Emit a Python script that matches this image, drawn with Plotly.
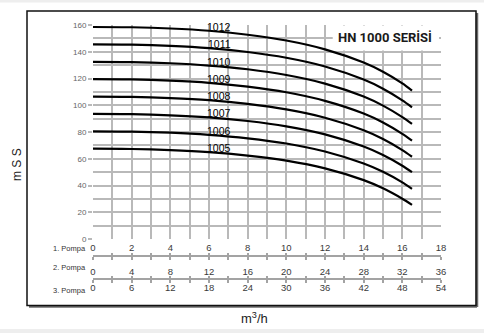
import numpy as np
import plotly.graph_objects as go

# Flow rate (m3/h, single pump) and head (mSS) for each pump model
flow = [0, 2, 4, 6, 8, 10, 12, 14, 15, 16, 16.5]
models = ["1012", "1011", "1010", "1009", "1008", "1007", "1006", "1005"]
head_1012 = [158.5, 158.3, 157.4, 155.7, 152.7, 148.4, 141.8, 131.9, 125.0, 116.3, 111.0]
head_1011 = [145.5, 145.3, 144.4, 142.7, 139.8, 135.5, 129.0, 119.2, 112.4, 103.7, 98.5]
head_1010 = [132.5, 132.3, 131.4, 129.7, 126.9, 122.6, 116.2, 106.5, 99.7, 91.1, 86.0]
head_1009 = [119.5, 119.3, 118.4, 116.8, 113.9, 109.7, 103.3, 93.8, 87.1, 78.6, 73.5]
head_1008 = [106.5, 106.3, 105.4, 103.8, 101.0, 96.9, 90.7, 81.3, 74.8, 66.5, 61.5]
head_1007 = [93.5, 93.3, 92.5, 90.9, 88.2, 84.2, 78.2, 69.1, 62.8, 54.8, 50.0]
head_1006 = [80.5, 80.3, 79.5, 77.9, 75.3, 71.4, 65.4, 56.4, 50.2, 42.3, 37.5]
head_1005 = [67.5, 67.3, 66.5, 65.0, 62.4, 58.6, 52.8, 44.0, 37.9, 30.1, 25.5]
heads = [head_1012, head_1011, head_1010, head_1009,
         head_1008, head_1007, head_1006, head_1005]

label_x = 6.53

# Flow scales for 1, 2 and 3 pumps in parallel
pompa1_ticks = list(range(0, 19, 2))
pompa2_ticks = list(range(0, 37, 4))
pompa3_ticks = list(range(0, 55, 6))
head_ticks = list(range(0, 161, 20))

W, H = 484, 333
ML, MR, MT, MB = 93, 43, 25, 33
PW, PH = W - ML - MR, H - MT - MB


def px(x):
    return (x - ML) / PW


def py(y):
    return (H - MB - y) / PH


plot_bottom = 239
line1_y = 256
line2_y = 279

GRID = "#b9b9b9"
AXC = "#a3a3a3"
TXT = "#3a3a3a"
FONT = "Liberation Sans"

fig = go.Figure()

for name, h in zip(models, heads):
    fig.add_trace(go.Scatter(
        x=flow, y=h, mode="lines", name=name,
        line=dict(color="black", width=2.2, shape="spline", smoothing=0.7),
        hoverinfo="skip", showlegend=False))
    fig.add_annotation(
        x=label_x, y=float(np.interp(label_x, flow, h)), text=name,
        showarrow=False, xanchor="center", yanchor="bottom", yshift=-3,
        font=dict(family=FONT, size=10.5, color="black"))

# empty traces so the extra flow scales are laid out
for ax in ["x2", "x3", "x4", "x5", "x6"]:
    fig.add_trace(go.Scatter(x=[], y=[], xaxis=ax, yaxis="y",
                             showlegend=False, hoverinfo="skip"))

x_grid = list(range(0, 19))


def tick_axis(pos, direction):
    # bare tick marks (one per single-pump m3/h) on a scale line
    return dict(range=[0, 18], overlaying="x", anchor="free", position=pos,
                side="bottom", showline=False, tickvals=x_grid,
                ticks=direction, ticklen=3, tickcolor=AXC, tickwidth=1.5,
                showticklabels=False, showgrid=False, zeroline=False)


fig.update_layout(
    width=W, height=H,
    margin=dict(l=ML, r=MR, t=MT, b=MB, pad=0),
    paper_bgcolor="white", plot_bgcolor="white",
    showlegend=False,
    xaxis=dict(
        range=[0, 18], tickvals=x_grid,
        ticktext=[str(v) if v in pompa1_ticks else "" for v in x_grid],
        ticks="", showline=False,
        zeroline=False, showgrid=True, gridcolor=GRID, gridwidth=2,
        tickfont=dict(family=FONT, size=9.5, color=TXT),
        ticklabelstandoff=1),
    yaxis=dict(
        range=[0, 160], tickvals=head_ticks, ticks="outside", ticklen=4,
        tickcolor=GRID, tickwidth=2, showline=False, zeroline=False,
        showgrid=True, gridcolor=GRID, gridwidth=2,
        minor=dict(dtick=10, showgrid=True, gridcolor=GRID, gridwidth=2),
        tickfont=dict(family=FONT, size=8, color="#666666"),
        domain=[py(plot_bottom), 1]),
    xaxis2=dict(
        range=[0, 36], overlaying="x", anchor="free", position=py(line1_y),
        side="bottom", showline=True, linecolor=AXC, linewidth=2,
        tickvals=pompa2_ticks, ticks="", showgrid=False, zeroline=False,
        tickfont=dict(family=FONT, size=9.5, color=TXT),
        ticklabelstandoff=7),
    xaxis4=tick_axis(py(line1_y), "inside"),
    xaxis5=tick_axis(py(line1_y), "outside"),
    xaxis3=dict(
        range=[0, 54], overlaying="x", anchor="free", position=py(line2_y),
        side="bottom", showline=True, linecolor=AXC, linewidth=2,
        tickvals=pompa3_ticks, ticks="", showgrid=False, zeroline=False,
        tickfont=dict(family=FONT, size=9.5, color=TXT),
        ticklabelstandoff=0),
    xaxis6=tick_axis(py(line2_y), "inside"),
)
fig.update_layout(xaxis7=tick_axis(py(line2_y), "outside"))
fig.add_trace(go.Scatter(x=[], y=[], xaxis="x7", yaxis="y",
                         showlegend=False, hoverinfo="skip"))

shapes = [
    # light strips at the page edges
    dict(type="rect", xref="paper", yref="paper", x0=px(0), x1=px(W),
         y0=py(0), y1=py(2.5), fillcolor="#eeeeee", line_width=0, layer="below"),
    dict(type="rect", xref="paper", yref="paper", x0=px(0), x1=px(W),
         y0=py(329), y1=py(H), fillcolor="#eeeeee", line_width=0, layer="below"),
    # frame shadow and frame
    dict(type="line", xref="paper", yref="paper", x0=px(477), x1=px(477),
         y0=py(13), y1=py(307), line=dict(color="#6a6a6a", width=2.5)),
    dict(type="line", xref="paper", yref="paper", x0=px(29), x1=px(477),
         y0=py(306.5), y1=py(306.5), line=dict(color="#6a6a6a", width=2.5)),
    dict(type="rect", xref="paper", yref="paper", x0=px(27), x1=px(476),
         y0=py(305.5), y1=py(11), line=dict(color="#111111", width=1.5)),
    # title panel
    dict(type="rect", xref="x", yref="y", x0=12.4, x1=17.9, y0=141, y1=159.6,
         fillcolor="white", line_width=0, layer="between"),
]
fig.update_layout(shapes=shapes)

fig.add_annotation(x=15.1, y=150.5, xref="x", yref="y", text="<b>HN 1000 SERİSİ</b>",
                   showarrow=False, xanchor="center", yanchor="middle",
                   font=dict(family="Roboto", size=13, color="#1a1a1a"))

for txt, ypos in [("1. Pompa", 248), ("2. Pompa", 267), ("3. Pompa", 290)]:
    fig.add_annotation(x=px(88), y=py(ypos), xref="paper", yref="paper", text=txt,
                       showarrow=False, xanchor="right", yanchor="middle",
                       font=dict(family=FONT, size=7.5, color="#333333"))

fig.add_annotation(x=px(17), y=py(165), xref="paper", yref="paper", text="m S S",
                   textangle=-90, showarrow=False, xanchor="center", yanchor="middle",
                   font=dict(family=FONT, size=12, color="#222222"))
fig.add_annotation(x=px(254), y=py(318), xref="paper", yref="paper",
                   text="m<sup>3</sup>/h", showarrow=False,
                   xanchor="center", yanchor="middle",
                   font=dict(family=FONT, size=13, color="#222222"))

fig.write_html("out.html")
